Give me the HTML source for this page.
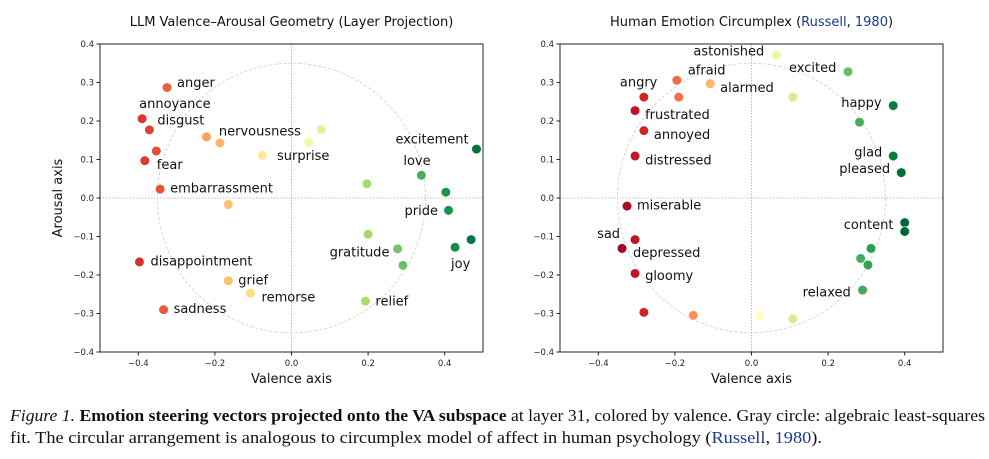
<!DOCTYPE html>
<html><head><meta charset="utf-8">
<style>
html,body{margin:0;padding:0;background:#fff;width:989px;height:459px;overflow:hidden}
svg{display:block}
text{font-family:"DejaVu Sans","Liberation Sans",sans-serif}
.cap{font-family:"Liberation Serif",serif;font-size:17px;fill:#111}
</style></head><body>
<svg id="fig" width="989" height="459" viewBox="0 0 989 459" xmlns="http://www.w3.org/2000/svg">
<text class="cap" x="10" y="421" textLength="975" lengthAdjust="spacingAndGlyphs"><tspan font-style="italic">Figure 1.</tspan> <tspan font-weight="bold">Emotion steering vectors projected onto the VA subspace</tspan> at layer 31, colored by valence. Gray circle: algebraic least-squares</text>
<text class="cap" x="10" y="443" textLength="812" lengthAdjust="spacingAndGlyphs">fit. The circular arrangement is analogous to circumplex model of affect in human psychology (<tspan fill="#1a3a8c">Russell</tspan>, <tspan fill="#1a3a8c">1980</tspan>).</text>
</svg>
<script>
// Left chart data
const leftLabels=["anger","annoyance","disgust","","fear","embarrassment","","nervousness","surprise","","","","disappointment","grief","remorse","sadness","","love","","pride","excitement","","gratitude","","joy","","relief"];
const leftValence=[-0.325,-0.39,-0.371,-0.353,-0.383,-0.343,-0.222,-0.187,-0.077,0.045,0.078,-0.165,-0.397,-0.165,-0.107,-0.334,0.197,0.339,0.403,0.41,0.483,0.2,0.277,0.291,0.427,0.469,0.193];
const leftArousal=[0.287,0.206,0.177,0.122,0.097,0.023,0.159,0.143,0.111,0.145,0.178,-0.017,-0.166,-0.215,-0.247,-0.29,0.037,0.059,0.015,-0.032,0.127,-0.094,-0.132,-0.175,-0.128,-0.108,-0.268];
// label offsets (px, styling)
const leftDX=[10,-3,8,0,12,10,0,-1,15,0,0,0,11,10,11,10,0,-18,0,-44,-81,0,-68,0,-4,0,10];
const leftDY=[-5,-15,-10,0,4,-1,0,-12,0,0,0,0,-1,-1,4,-1,0,-15,0,0,-10,0,3,0,16,0,0];
// Right chart data
const rightLabels=["astonished","excited","afraid","alarmed","","angry","","happy","","frustrated","annoyed","distressed","glad","pleased","miserable","content","","","","","relaxed","sad","depressed","gloomy","","","",""];
const rightValence=[0.065,0.252,-0.195,-0.108,-0.19,-0.281,0.108,0.37,0.282,-0.304,-0.281,-0.304,0.37,0.391,-0.325,0.4,0.4,0.312,0.285,0.304,0.29,-0.304,-0.338,-0.304,-0.281,-0.152,0.022,0.108];
const rightArousal=[0.371,0.328,0.306,0.297,0.262,0.262,0.262,0.24,0.197,0.227,0.175,0.109,0.109,0.066,-0.021,-0.064,-0.087,-0.131,-0.157,-0.174,-0.239,-0.108,-0.131,-0.196,-0.297,-0.305,-0.305,-0.314];
const rightDX=[-83,-59,11,10,0,-24,0,-52,0,10,10,10,-39,-62,10,-61,0,0,0,0,-60,-38,11,10,0,0,0,0];
const rightDY=[-4,-4,-10,4,0,-15,0,-3,0,4,4,4,-4,-4,-1,2,0,0,0,0,2,-6,4,2,0,0,0,0];
const xTicks=[-0.4,-0.2,0.0,0.2,0.4];
const yTicks=[-0.4,-0.3,-0.2,-0.1,0.0,0.1,0.2,0.3,0.4];
const xTickLabels=["−0.4","−0.2","0.0","0.2","0.4"];
const yTickLabels=["−0.4","−0.3","−0.2","−0.1","0.0","0.1","0.2","0.3","0.4"];

const NS="http://www.w3.org/2000/svg";
const svg=document.getElementById('fig');
function mk(tag,attrs,parent){const e=document.createElementNS(NS,tag);for(const k in attrs)e.setAttribute(k,attrs[k]);(parent||svg).appendChild(e);return e;}
const stops=["#a50026","#d73027","#f46d43","#fdae61","#fee08b","#ffffbf","#d9ef8b","#a6d96a","#66bd63","#1a9850","#006837"];
function hex(h){return [1,3,5].map(i=>parseInt(h.substr(i,2),16));}
function cmap(t){t=Math.max(0,Math.min(1,t));const p=t*10,i=Math.min(9,Math.floor(p)),f=p-i;const a=hex(stops[i]),b=hex(stops[i+1]);return "rgb("+a.map((v,k)=>Math.round(v+(b[k]-v)*f)).join(",")+")";}

function chart(o){
  const g=mk('g',{});
  
  
  const sx=v=>o.x0+(v+0.5)/1.0*(o.x1-o.x0);
  const sy=v=>o.y0+(0.4-v)/0.8*(o.y1-o.y0);
  const t=mk('text',{x:(o.x0+o.x1)/2,y:26,'text-anchor':'middle','font-size':13,fill:'#111'},g);
  
  
  if(o.titleParts){t.textContent=o.titleParts[0];const s=mk('tspan',{fill:'#1a3a8c'},t);s.textContent=o.titleParts[1];const s2=mk('tspan',{},t);s2.textContent=", ";const s3=mk('tspan',{fill:'#1a3a8c'},t);s3.textContent=o.titleParts[2];const s4=mk('tspan',{},t);s4.textContent=")";}
  else t.textContent=o.title;
  mk('line',{x1:o.x0,x2:o.x1,y1:sy(0),y2:sy(0),stroke:'#aaa','stroke-width':0.8,'stroke-dasharray':'1.5,1.5'},g);
  mk('line',{x1:sx(0),x2:sx(0),y1:o.y0,y2:o.y1,stroke:'#aaa','stroke-width':0.8,'stroke-dasharray':'1.5,1.5'},g);
  const c=mk('ellipse',{cx:sx(0),cy:sy(0),rx:sx(0.35)-sx(0),ry:sy(-0.35)-sy(0),fill:'none',stroke:'#ccc','stroke-width':0.8,'stroke-dasharray':'3,2'},g);
  
  
  const f=mk('rect',{x:o.x0,y:o.y0,width:o.x1-o.x0,height:o.y1-o.y0,fill:'none',stroke:'#222','stroke-width':1},g);
  
  
  xTicks.forEach((v,i)=>{mk('line',{x1:sx(v),x2:sx(v),y1:o.y1,y2:o.y1+3.5,stroke:'#222'},g);
    const tl=mk('text',{x:sx(v),y:o.y1+14,'text-anchor':'middle','font-size':8.5,fill:'#222'},g);tl.textContent=xTickLabels[i];
    
    });
  yTicks.forEach((v,i)=>{mk('line',{x1:o.x0-3.5,x2:o.x0,y1:sy(v),y2:sy(v),stroke:'#222'},g);
    const tl=mk('text',{x:o.x0-6,y:sy(v)+3,'text-anchor':'end','font-size':8.5,fill:'#222'},g);tl.textContent=yTickLabels[i];
    
    });
  const xl=mk('text',{x:(o.x0+o.x1)/2,y:o.y1+31,'text-anchor':'middle','font-size':13,fill:'#111'},g);xl.textContent='Valence axis';
  
  
  if(o.ylab){const yl=mk('text',{x:0,y:0,'text-anchor':'middle','font-size':13,fill:'#111',transform:'translate('+(o.x0-38)+','+sy(0)+') rotate(-90)'},g);yl.textContent='Arousal axis';
    
    }
  o.vx.forEach((v,i)=>{const a=o.vy[i];
    const p=mk('circle',{cx:sx(v),cy:sy(a),r:4.8,fill:cmap((v-o.vmin)/(o.vmax-o.vmin)),stroke:'#fff','stroke-width':0.6},g);
    
    
    const lab=o.labels[i];
    if(lab){const tx=mk('text',{x:sx(v)+o.dx[i],y:sy(a)+o.dy[i]+4.5,'font-size':13,fill:'#111'},g);tx.textContent=lab;
      
      }
  });
}
chart({name:'llm-chart',title:'LLM Valence–Arousal Geometry (Layer Projection)',x0:100,x1:483,y0:44,y1:352,vx:leftValence,vy:leftArousal,labels:leftLabels,dx:leftDX,dy:leftDY,vmin:-0.5,vmax:0.5,ylab:true});
chart({name:'human-chart',titleParts:['Human Emotion Circumplex (','Russell','1980'],x0:560,x1:943,y0:44,y1:352,vx:rightValence,vy:rightArousal,labels:rightLabels,dx:rightDX,dy:rightDY,vmin:-0.34,vmax:0.4,ylab:false});
</script>
</body></html>
